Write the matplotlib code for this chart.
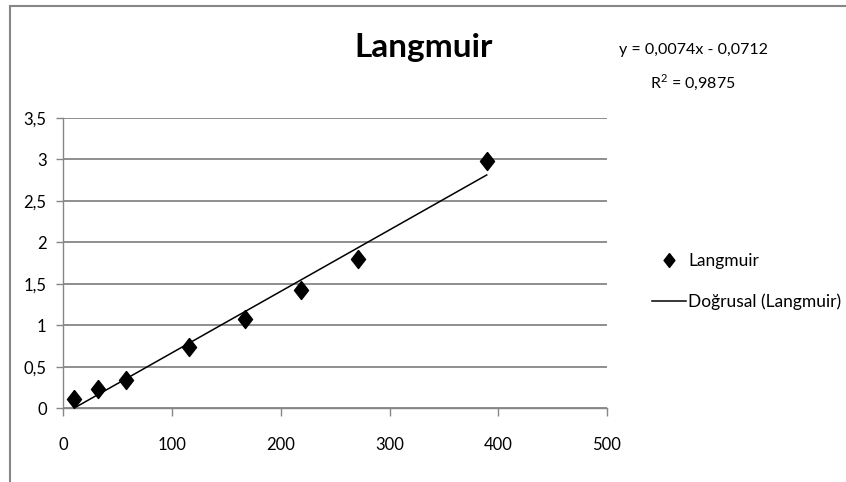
import matplotlib
matplotlib.use("Agg")
from matplotlib import pyplot as plt
from matplotlib.lines import Line2D
from matplotlib.patches import Rectangle
from matplotlib.ticker import FuncFormatter
import numpy as np

plt.rcParams['font.family'] = ['Lato', 'DejaVu Sans']
plt.rcParams['mathtext.fontset'] = 'custom'
plt.rcParams['mathtext.rm'] = 'Lato'

# data
x_vals = [9.9, 32.3, 57.6, 115.4, 167.0, 218.5, 271.4, 389.4]
y_vals = [0.11, 0.23, 0.34, 0.735, 1.076, 1.425, 1.795, 2.98]
slope = 0.0074
intercept = -0.0712
r2 = 0.9875
x_ticks = [0, 100, 200, 300, 400, 500]
y_ticks = [0, 0.5, 1, 1.5, 2, 2.5, 3, 3.5]

W, H = 846, 482
fig = plt.figure(figsize=(W / 100, H / 100), dpi=100)
ax = fig.add_axes([63.3 / W, (H - 408.3) / H, (607 - 63.3) / W, (408.3 - 117.7) / H])

grey = '#868686'
diamond = [(0, 1), (0.78, 0), (0, -1), (-0.78, 0), (0, 1)]

ax.plot(x_vals, y_vals, linestyle='none', marker=diamond, markersize=13,
        color='black', zorder=3)
xs = np.array([x_vals[0], x_vals[-1]])
ax.plot(xs, slope * xs + intercept, color='black', lw=1.1, zorder=2)

ax.set_xlim(0, 500)
ax.set_ylim(0, 3.5)
ax.set_xticks(x_ticks)
ax.set_yticks(y_ticks)
fmt = FuncFormatter(lambda v, p: ('%g' % v).replace('.', ','))
ax.xaxis.set_major_formatter(fmt)
ax.yaxis.set_major_formatter(fmt)

ax.grid(axis='y', color=grey, lw=1.3)
ax.set_axisbelow(True)
for s in ['top', 'right']:
    ax.spines[s].set_visible(False)
for s in ['left', 'bottom']:
    ax.spines[s].set_color(grey)
    ax.spines[s].set_linewidth(1.0)
ax.tick_params(axis='x', direction='out', length=6, width=1, color=grey,
               labelsize=12, pad=15)
ax.tick_params(axis='y', direction='out', length=5, width=1, color=grey,
               labelsize=12, pad=7)

fig.text(424 / W, 1 - 47 / H, 'Langmuir', ha='center', va='center',
         fontsize=24, fontweight='bold')
fig.text(693 / W, 1 - 50 / H, ('y = %.4fx - %.4f' % (slope, -intercept)).replace('.', ','),
         ha='center', va='center', fontsize=11.5)
fig.text(693 / W, 1 - 82 / H, ('R$^2$ = %.4f' % r2).replace('.', ','),
         ha='center', va='center', fontsize=11.5)

handles = [
    Line2D([], [], linestyle='none', marker=diamond, markersize=10, color='black'),
    Line2D([], [], color='black', lw=1.1),
]
fig.legend(handles, ['Langmuir', 'Doğrusal (Langmuir)'], loc='center left',
           bbox_to_anchor=(652 / W, 1 - 281.5 / H), frameon=False, fontsize=12.5,
           handlelength=1.95, handletextpad=0.15, labelspacing=1.4, borderpad=0,
           borderaxespad=0)

# chart border (cut off on the right and bottom)
fig.add_artist(Rectangle((9.5 / W, -0.2), 2, 1.2 - 6 / H, transform=fig.transFigure,
                         fill=False, edgecolor=grey, lw=1.5))

fig.savefig('out.png', dpi=100)
